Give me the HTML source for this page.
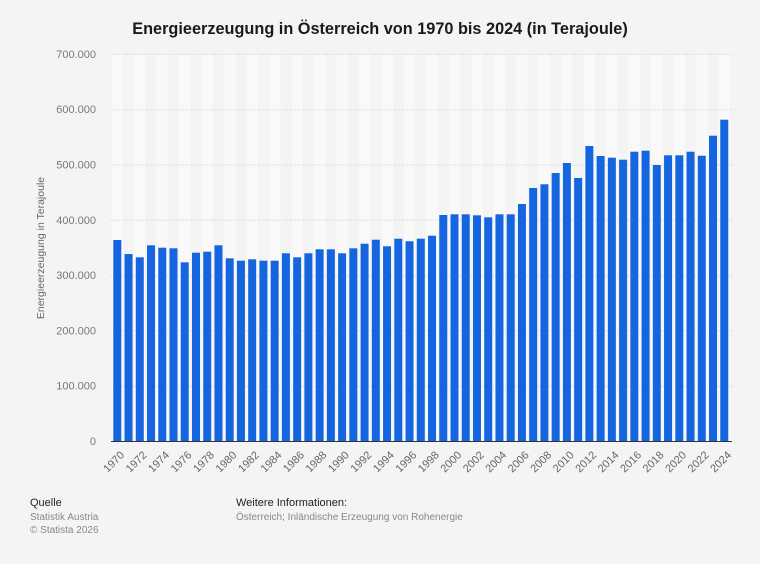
<!DOCTYPE html>
<html><head><meta charset="utf-8"><style>
html,body{margin:0;padding:0;background:#f4f4f4;}
svg{display:block;font-family:"Liberation Sans",sans-serif;}
</style></head><body>
<svg width="760" height="564" viewBox="0 0 760 564">
<rect width="760" height="564" fill="#f4f4f4"/>
<text x="380" y="34" text-anchor="middle" font-size="16.3" font-weight="bold" fill="#1a1a1a">Energieerzeugung in Österreich von 1970 bis 2024 (in Terajoule)</text>
<g id="stripes"></g>
<g id="grid" stroke="#d6d6d6" stroke-dasharray="1,1" stroke-width="1"></g>
<g id="ylab" font-size="11" fill="#777" text-anchor="end"></g>
<text transform="translate(44,248) rotate(-90)" text-anchor="middle" font-size="10.5" fill="#666">Energieerzeugung in Terajoule</text>
<g id="bars" fill="#1565e0"></g>
<line x1="111" y1="441.5" x2="732" y2="441.5" stroke="#333" stroke-width="1"/>
<g id="xlab" font-size="11" fill="#666" text-anchor="end"></g>
<text x="30" y="506" font-size="11" fill="#222">Quelle</text>
<text x="30" y="520" font-size="10" fill="#888">Statistik Austria</text>
<text x="30" y="533" font-size="10" fill="#888">© Statista 2026</text>
<text x="236" y="506" font-size="11" fill="#222">Weitere Informationen:</text>
<text x="236" y="520" font-size="10" fill="#888">Österreich; Inländische Erzeugung von Rohenergie</text>
</svg>
<script>
var tops=[240,254,257.3,245.3,247.7,248.3,262.3,252.7,251.7,245.3,258.3,260.7,259.3,260.7,260.7,253.3,257.3,253.3,249.3,249.3,253.3,248.3,243.7,239.7,246.3,238.7,241.3,238.7,235.7,215,214.3,214.3,215.3,217.3,214.3,214.3,204,188,184.3,173,163,178,146,156,157.7,159.7,151.7,150.7,165,155.3,155.3,151.7,155.7,135.7,119.7];
var NS="http://www.w3.org/2000/svg";
function el(t,a,p,txt){var e=document.createElementNS(NS,t);for(var k in a)e.setAttribute(k,a[k]);if(txt)e.textContent=txt;document.getElementById(p).appendChild(e);}
var x0=111.7,step=11.24;
for(var i=0;i<55;i++){
 if(i%2==0) el('rect',{x:x0+i*step,y:54,width:step,height:387,fill:'#f9f9f9'},'stripes');
}
for(var v=0;v<=7;v++){
 var y=441-v*55.3;
 if(v>0) el('line',{x1:111,x2:732,y1:y+0.5,y2:y+0.5},'grid');
 el('text',{x:96,y:y+4},'ylab',v==0?'0':(v*100)+'.000');
}
for(var i=0;i<55;i++){
 var x=x0+i*step+1.6;
 el('rect',{x:x,y:tops[i],width:8,height:441-tops[i]},'bars');
 if(i%2==0){var cx=x+6,cy=450;el('text',{x:cx,y:cy+8,transform:'rotate(-45 '+cx+' '+cy+')'},'xlab',String(1970+i));}
}
</script>
</body></html>
